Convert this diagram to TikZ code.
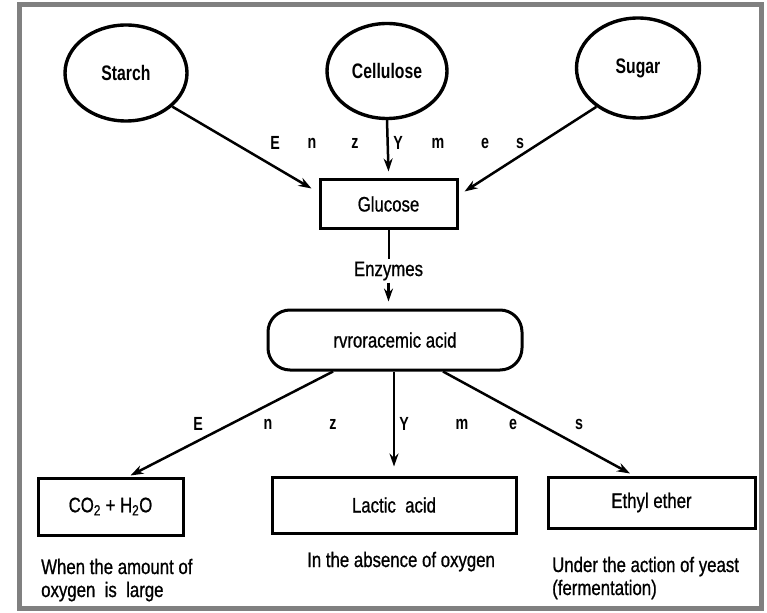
\documentclass[tikz,border=0pt]{standalone}
\usepackage{fontspec}
\setmainfont[FakeStretch=0.8,FakeBold=0.8]{Liberation Sans}
\newfontfamily\circfont[FakeStretch=0.75]{Liberation Sans}
\usetikzlibrary{shapes.geometric,arrows.meta,calc}
\begin{document}
\begin{tikzpicture}[x=1pt,y=-1pt,
  circ/.style={ellipse,draw,line width=3.4pt,font=\circfont\fontsize{21}{24}\selectfont\bfseries,inner sep=0pt},
  boxn/.style={rectangle,draw,line width=3pt,font=\fontsize{21}{24}\selectfont,inner sep=0pt},
  arr/.style={line width=2.5pt,-{Stealth[length=13pt,width=9pt]}},
  lnk/.style={line width=2pt},
  spl/.style={font=\circfont\fontsize{19}{21}\selectfont\bfseries,inner sep=0pt},
  lbl/.style={font=\fontsize{21}{24}\selectfont,inner sep=2pt,fill=white},
  captext/.style={font=\fontsize{21}{24}\selectfont,anchor=base west,inner sep=0pt}]
\useasboundingbox (0,0) rectangle (767,612);
\draw[line width=5pt,draw={rgb,255:red,128;green,128;blue,128}] (19,5) rectangle (761,608);

% top sources
\node[circ,minimum width=122pt,minimum height=96pt] (starch) at (126,73) {Starch};
\node[circ,minimum width=120pt,minimum height=95pt] (cellulose) at (387,71) {Cellulose};
\node[circ,minimum width=123pt,minimum height=100pt] (sugar) at (638,68) {Sugar};

\node[boxn,minimum width=137pt,minimum height=48pt] (glucose) at (388.5,204) {Glucose};
\node[boxn,rounded corners=22pt,minimum width=254pt,minimum height=60pt] (pyro) at (395,340) {rvroracemic acid};

\node[boxn,minimum width=145pt,minimum height=57pt] (co2) at (110.5,506.5) {CO\textsubscript{2} + H\textsubscript{2}O};
\node[boxn,minimum width=244pt,minimum height=56pt] (lactic) at (394,505) {Lactic\ \ acid};
\node[boxn,minimum width=207pt,minimum height=51pt] (ethyl) at (651.5,502.5) {Ethyl ether};

% connectors top
\draw[arr] (starch.-36.5) -- ([xshift=-7pt,yshift=-10pt]glucose.north west);
\draw[arr] (sugar.223.6) -- ([xshift=6pt,yshift=-13pt]glucose.north east);
\draw[arr] (cellulose.south) -- ([yshift=7pt]glucose.north);

% spaced Enzymes (top)
\node[spl] (e1) at (275,143) {E};
\node[spl] (e2) at (312,143) {n};
\node[spl] (e3) at (355,143) {z};
\node[spl] (e4) at (398,143) {Y};
\node[spl] (e5) at (438,143) {m};
\node[spl] (e6) at (485,143) {e};
\node[spl] (e7) at (520,143) {s};

% glucose -> pyro
\node[lbl] (enz) at (388.5,271) {Enzymes};
\draw[lnk] (glucose.south) -- (enz.north);
\draw[arr] (enz.south) -- ([yshift=7pt]pyro.north -| enz.south);

% pyro -> products
\draw[arr] ([xshift=-62pt]pyro.south) -- ([xshift=20pt,yshift=1pt]co2.north);
\draw[arr] (pyro.south -| lactic.north) -- ([yshift=9pt]lactic.north);
\draw[arr] ([xshift=48pt]pyro.south) -- ([xshift=-21.5pt,yshift=2pt]ethyl.north);

% spaced Enzymes (bottom)
\node[spl] (b1) at (198,424) {E};
\node[spl] (b2) at (268,424) {n};
\node[spl] (b3) at (333,424) {z};
\node[spl] (b4) at (404,424) {Y};
\node[spl] (b5) at (462,424) {m};
\node[spl] (b6) at (513,424) {e};
\node[spl] (b7) at (579,424) {s};

% captions
\node[captext] (c1a) at (41,574) {When the amount of};
\node[captext] (c1b) at (41,597) {oxygen\ \ is\ \ large};
\node[captext] (c2) at (307,567) {In the absence of oxygen};
\node[captext] (c3a) at (552,572) {Under the action of yeast};
\node[captext] (c3b) at (552,595) {(fermentation)};
\end{tikzpicture}
\end{document}
